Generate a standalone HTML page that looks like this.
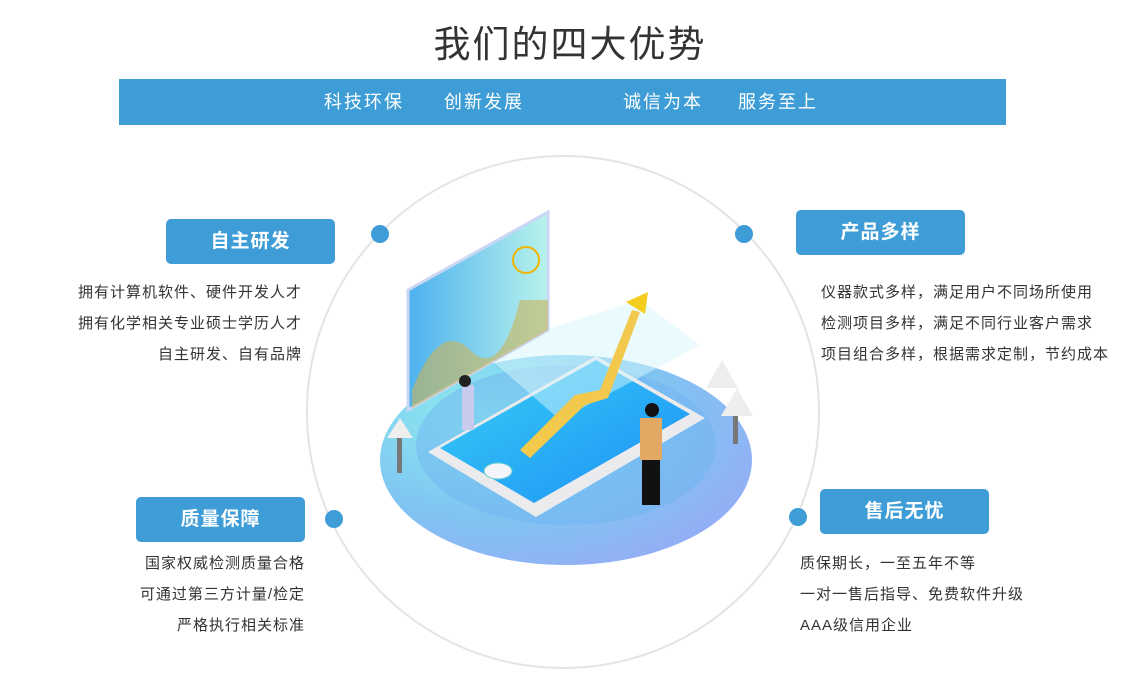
<!DOCTYPE html>
<html><head><meta charset="utf-8"><style>
*{margin:0;padding:0;box-sizing:border-box}
body{width:1140px;height:683px;background:#fff;position:relative;overflow:hidden;font-family:"Liberation Sans","Noto Sans CJK SC",sans-serif;color:#333}
.a{position:absolute}
.title{left:0;width:1140px;top:21px;text-align:center;font-size:37px;color:#333;letter-spacing:2px;line-height:48px}
.bar{left:119px;top:79px;width:887px;height:46px;background:#3e9dd6}
.bar span{position:absolute;top:0;line-height:46px;color:#fff;font-size:18px;letter-spacing:2px}
.box{background:#3e9dd6;border-radius:5px;width:169px;height:45px;color:#fff;font-size:19px;font-weight:bold;text-align:center;line-height:45px;letter-spacing:1px}
.dot{width:18px;height:18px;border-radius:50%;background:#3e9dd6}
.t{font-size:15px;line-height:31px;color:#333;letter-spacing:1px;white-space:nowrap}
.r{text-align:right}
</style></head><body>
<div class="a title">我们的四大优势</div>
<div class="a bar">
<span style="left:205px">科技环保</span><span style="left:325px">创新发展</span>
<span style="left:504px">诚信为本</span><span style="left:619px">服务至上</span>
</div>
<svg class="a" style="left:0;top:0" width="1140" height="683">
<defs>
<radialGradient id="g1" cx="0.3" cy="0.3" r="0.9"><stop offset="0" stop-color="#8ff0ee"/><stop offset="0.5" stop-color="#7fc6f2"/><stop offset="1" stop-color="#9aa6f6"/></radialGradient>
<linearGradient id="g2" x1="0" y1="0" x2="1" y2="1"><stop offset="0" stop-color="#36d0f6"/><stop offset="1" stop-color="#1e8ef5"/></linearGradient>
<linearGradient id="g3" x1="0" y1="0" x2="1" y2="0"><stop offset="0" stop-color="#4db1ee"/><stop offset="1" stop-color="#b8f2ec"/></linearGradient>
</defs>
<circle cx="563" cy="412" r="256" fill="none" stroke="#e4e4e4" stroke-width="2"/>
<ellipse cx="566" cy="460" rx="186" ry="105" fill="url(#g1)"/>
<ellipse cx="566" cy="445" rx="150" ry="80" fill="#6fb3f2" opacity="0.5"/>
<polygon points="428,452 596,356 705,418 536,517" fill="#ebebee"/>
<polygon points="440,448 596,360 690,414 534,503" fill="url(#g2)"/>
<polygon points="480,350 640,300 700,345 560,420" fill="#d8f6fb" opacity="0.5"/>
<polygon points="408,290 548,212 548,330 408,410" fill="url(#g3)" stroke="#c9d6f4" stroke-width="3"/>
<path d="M412,390 Q440,320 470,350 T520,300 L548,300 L548,330 L412,408Z" fill="#c9b45a" opacity="0.6"/>
<circle cx="526" cy="260" r="13" fill="none" stroke="#f0b400" stroke-width="2"/>
<polygon points="520,450 575,395 600,390 632,310 640,312 608,398 585,405 530,458" fill="#f2c94c"/>
<polygon points="626,302 648,292 645,314" fill="#f5cd1e"/>
<ellipse cx="498" cy="471" rx="14" ry="8" fill="#f4f4fb" stroke="#6cc" />
<rect x="462" y="385" width="12" height="45" fill="#c9cbee"/><circle cx="465" cy="381" r="6" fill="#222"/>
<rect x="640" y="418" width="22" height="42" fill="#e2a965"/><rect x="642" y="460" width="18" height="45" fill="#111"/><circle cx="652" cy="410" r="7" fill="#111"/>
<polygon points="400,418 413,438 387,438" fill="#eee"/><rect x="397" y="438" width="5" height="35" fill="#777"/>
<polygon points="722,360 738,388 706,388" fill="#eee"/><polygon points="737,388 753,416 721,416" fill="#eee"/><rect x="733" y="416" width="5" height="28" fill="#777"/>
</svg>
<div class="a dot" style="left:371px;top:225px"></div>
<div class="a dot" style="left:735px;top:225px"></div>
<div class="a dot" style="left:325px;top:510px"></div>
<div class="a dot" style="left:789px;top:508px"></div>
<div class="a box" style="left:166px;top:219px">自主研发</div>
<div class="a box" style="left:796px;top:210px">产品多样</div>
<div class="a box" style="left:136px;top:497px">质量保障</div>
<div class="a box" style="left:820px;top:489px">售后无忧</div>
<div class="a t r" style="right:838px;top:277px">拥有计算机软件、硬件开发人才<br>拥有化学相关专业硕士学历人才<br>自主研发、自有品牌</div>
<div class="a t" style="left:821px;top:277px">仪器款式多样，满足用户不同场所使用<br>检测项目多样，满足不同行业客户需求<br>项目组合多样，根据需求定制，节约成本</div>
<div class="a t r" style="right:835px;top:548px">国家权威检测质量合格<br>可通过第三方计量/检定<br>严格执行相关标准</div>
<div class="a t" style="left:800px;top:548px">质保期长，一至五年不等<br>一对一售后指导、免费软件升级<br>AAA级信用企业</div>
</body></html>
